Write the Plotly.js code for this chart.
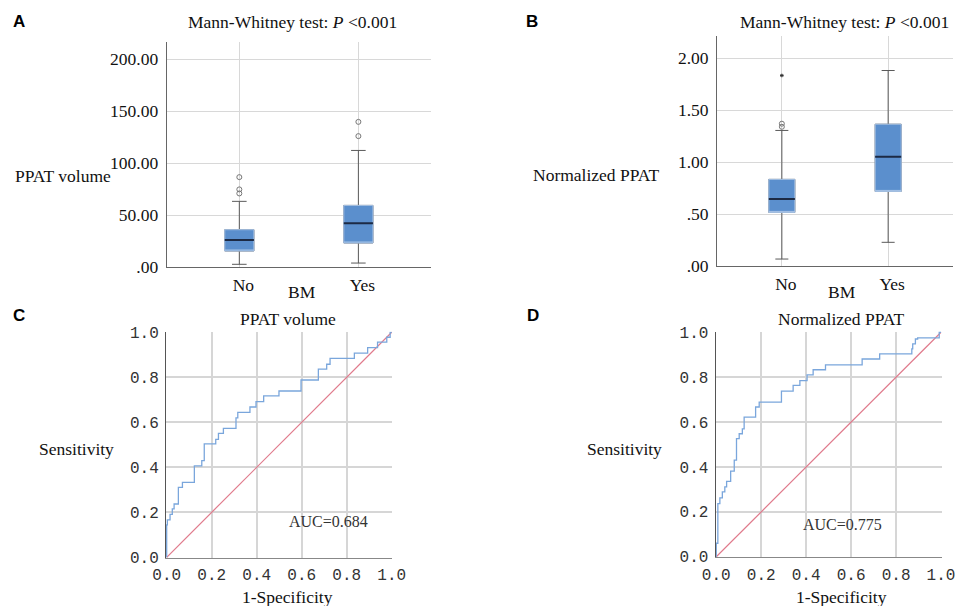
<!DOCTYPE html>
<html>
<head>
<meta charset="utf-8">
<script src="https://cdn.plot.ly/plotly-3.0.1.min.js"></script>
<style>html,body{margin:0;padding:0;background:#fff;}#chart{width:959px;height:606px;}</style>
</head>
<body>
<div id="chart"></div>
<script>
// ---------- data ----------
const groups = ['No', 'Yes'];

const volQ1 = [15.4, 23.1];
const volMedian = [26.0, 42.0];
const volQ3 = [35.9, 59.3];
const volLow = [2.6, 3.8];
const volHigh = [63.2, 112.2];
const volOutX = ['No', 'No', 'No', 'Yes', 'Yes'];
const volOutY = [86.5, 74.7, 70.8, 126.0, 139.7];
const volTickVals = [0, 50, 100, 150, 200];
const volTickText = ['.00', '50.00', '100.00', '150.00', '200.00'];

const normQ1 = [0.516, 0.718];
const normMedian = [0.644, 1.051];
const normQ3 = [0.834, 1.365];
const normLow = [0.067, 0.228];
const normHigh = [1.305, 1.882];
const normOutX = ['No', 'No'];
const normOutY = [1.37, 1.34];
const normExtX = ['No'];
const normExtY = [1.834];
const normTickVals = [0, 0.5, 1, 1.5, 2];
const normTickText = ['.00', '.50', '1.00', '1.50', '2.00'];

const rocVolFpr = [0, 0, 0.003, 0.015, 0.025, 0.033, 0.052, 0.070, 0.123, 0.156, 0.167, 0.218, 0.230, 0.252, 0.308, 0.316, 0.370, 0.397, 0.431, 0.499, 0.597, 0.674, 0.711, 0.726, 0.834, 0.893, 0.937, 0.978, 0.993, 1];
const rocVolTpr = [0, 0.144, 0.166, 0.191, 0.215, 0.237, 0.311, 0.333, 0.406, 0.430, 0.504, 0.524, 0.551, 0.573, 0.620, 0.644, 0.668, 0.692, 0.717, 0.739, 0.788, 0.836, 0.858, 0.884, 0.907, 0.932, 0.956, 0.978, 1.0, 1];

const rocNormFpr = [0, 0, 0.007, 0.016, 0.027, 0.038, 0.046, 0.064, 0.080, 0.090, 0.102, 0.116, 0.124, 0.175, 0.191, 0.290, 0.342, 0.372, 0.404, 0.431, 0.486, 0.649, 0.727, 0.870, 0.874, 0.886, 0.896, 0.992, 1];
const rocNormTpr = [0, 0.06, 0.237, 0.262, 0.289, 0.311, 0.336, 0.381, 0.430, 0.526, 0.548, 0.570, 0.622, 0.667, 0.689, 0.738, 0.763, 0.785, 0.810, 0.833, 0.855, 0.881, 0.904, 0.926, 0.948, 0.970, 0.975, 1.0, 1];

const diagX = [0, 1];
const diagY = [0, 1];
const rocTickVals = [0, 0.2, 0.4, 0.6, 0.8, 1.0];
const rocTickText = ['0.0', '0.2', '0.4', '0.6', '0.8', '1.0'];

// ---------- style ----------
const W = 959, H = 606;
const SERIF = 'Liberation Serif, Times New Roman, serif';
const MONO = 'Liberation Mono, Courier New, monospace';
const BOXFILL = '#5b8fcd';
const MEDCOL = '#1c2a44';
const WHISK = '#5a5a5a';
const px = v => v / W;
const py = v => 1 - v / H;

function boxTraces(xa, ya, q1, med, q3, lo, hi) {
  const common = {type: 'box', x: groups, xaxis: xa, yaxis: ya, boxpoints: false, width: 0.245, hoverinfo: 'skip', showlegend: false};
  return [
    Object.assign({}, common, {q1: q1, median: med, q3: q3, lowerfence: lo, upperfence: hi,
      fillcolor: BOXFILL, line: {color: WHISK, width: 1}, whiskerwidth: 0.5}),
    Object.assign({}, common, {q1: q1, median: q1, q3: q3, lowerfence: q1, upperfence: q3,
      fillcolor: BOXFILL, line: {color: '#a9c4e6', width: 1}, whiskerwidth: 0}),
    Object.assign({}, common, {q1: med, median: med, q3: med, lowerfence: med, upperfence: med,
      fillcolor: 'rgba(0,0,0,0)', line: {color: MEDCOL, width: 2}, whiskerwidth: 0})
  ];
}
function rocTraces(xa, ya, fpr, tpr) {
  return [
    {type: 'scatter', mode: 'lines', x: diagX, y: diagY, xaxis: xa, yaxis: ya,
      line: {color: '#e07a8c', width: 1.2}, showlegend: false, hoverinfo: 'skip'},
    {type: 'scatter', mode: 'lines', x: fpr, y: tpr, xaxis: xa, yaxis: ya,
      line: {color: '#7aa6dc', width: 1.3, shape: 'hv'}, showlegend: false, hoverinfo: 'skip'}
  ];
}

const traces = [];
traces.push(...boxTraces('x', 'y', volQ1, volMedian, volQ3, volLow, volHigh));
traces.push({type: 'scatter', mode: 'markers', x: volOutX, y: volOutY, xaxis: 'x', yaxis: 'y',
  marker: {symbol: 'circle-open', size: 5, color: '#777', line: {width: 1}}, showlegend: false, hoverinfo: 'skip'});
traces.push(...boxTraces('x2', 'y2', normQ1, normMedian, normQ3, normLow, normHigh));
traces.push({type: 'scatter', mode: 'markers', x: normOutX, y: normOutY, xaxis: 'x2', yaxis: 'y2',
  marker: {symbol: 'circle-open', size: 5, color: '#777', line: {width: 1}}, showlegend: false, hoverinfo: 'skip'});
traces.push({type: 'scatter', mode: 'markers', x: normExtX, y: normExtY, xaxis: 'x2', yaxis: 'y2',
  marker: {symbol: 'asterisk-open', size: 3, color: '#333', line: {width: 1, color: '#333'}}, showlegend: false, hoverinfo: 'skip'});
traces.push(...rocTraces('x3', 'y3', rocVolFpr, rocVolTpr));
traces.push(...rocTraces('x4', 'y4', rocNormFpr, rocNormTpr));

function boxX(dom, anchor) {
  return {domain: dom, anchor: anchor, type: 'category', range: [-0.61, 1.61], showline: true, linecolor: '#666', linewidth: 1,
    showgrid: true, gridcolor: '#d8d8d8', gridwidth: 1, zeroline: false, ticks: '', ticklabelshift: 4, ticklabelstandoff: 2,
    tickfont: {family: SERIF, size: 17.5, color: '#111'}, fixedrange: true};
}
function boxY(dom, anchor, rng, tv, tt) {
  return {domain: dom, anchor: anchor, range: rng, tickmode: 'array', tickvals: tv, ticktext: tt, showline: true, linecolor: '#666', linewidth: 1,
    showgrid: true, gridcolor: '#d8d8d8', gridwidth: 1, zeroline: false, ticks: '', ticklabelstandoff: 4,
    tickfont: {family: SERIF, size: 17.5, color: '#111'}, fixedrange: true};
}
function rocX(dom, anchor) {
  return {domain: dom, anchor: anchor, range: [-0.003, 1.003], tickmode: 'array', tickvals: rocTickVals, ticktext: rocTickText,
    showline: true, linecolor: '#888', linewidth: 1, showgrid: true, gridcolor: '#d6d6d6', gridwidth: 2, zeroline: false, ticks: '',
    ticklabelstandoff: 2, tickfont: {family: MONO, size: 16, color: '#333'}, fixedrange: true};
}
function rocY(dom, anchor) {
  return {domain: dom, anchor: anchor, range: [-0.003, 1.003], tickmode: 'array', tickvals: rocTickVals, ticktext: rocTickText,
    showline: true, linecolor: '#555', linewidth: 1, showgrid: true, gridcolor: '#d6d6d6', gridwidth: 2, zeroline: false, ticks: '',
    ticklabelstandoff: 3, tickfont: {family: MONO, size: 16, color: '#333'}, fixedrange: true};
}

const layout = {
  width: W, height: H, margin: {l: 0, r: 0, t: 0, b: 0}, paper_bgcolor: '#fff', plot_bgcolor: '#fff',
  boxmode: 'overlay', showlegend: false,
  xaxis: boxX([px(166.7), px(431)], 'y'),
  yaxis: boxY([py(267), py(42.3)], 'x', [0, 216.3], volTickVals, volTickText),
  xaxis2: boxX([px(717), px(953)], 'y2'),
  yaxis2: boxY([py(266), py(35.7)], 'x2', [0, 2.217], normTickVals, normTickText),
  xaxis3: rocX([px(166), px(392.4)], 'y3'),
  yaxis3: rocY([py(558), py(331.6)], 'x3'),
  xaxis4: rocX([px(715.6), px(941.7)], 'y4'),
  yaxis4: rocY([py(557.4), py(331.6)], 'x4'),
  annotations: []
};

function note(text, x, y, size, opts) {
  layout.annotations.push(Object.assign({text: text, xref: 'paper', yref: 'paper', x: px(x), y: py(y),
    xanchor: 'center', yanchor: 'middle', showarrow: false,
    font: {family: SERIF, size: size || 17.5, color: '#111'}}, opts || {}));
}
const letterFont = {family: 'Liberation Sans, Arial, sans-serif', size: 17, color: '#000'};
note('<b>A</b>', 19, 22, 17, {font: letterFont});
note('<b>B</b>', 532, 22, 17, {font: letterFont});
note('<b>C</b>', 19, 315, 17, {font: letterFont});
note('<b>D</b>', 533, 315, 17, {font: letterFont});
note('Mann-Whitney test: <i>P</i> &lt;0.001', 292, 22);
note('Mann-Whitney test: <i>P</i> &lt;0.001', 844, 22);
note('PPAT volume', 62.5, 176);
note('Normalized PPAT', 596.7, 175);
note('BM', 302, 292);
note('BM', 841.7, 292);
note('PPAT volume', 288.3, 319);
note('Normalized PPAT', 841.7, 319);
note('Sensitivity', 76, 449);
note('Sensitivity', 624.5, 449);
note('1-Specificity', 287.3, 596.5);
note('1-Specificity', 841, 596.5);
layout.annotations.push({text: 'AUC=0.684', xref: 'x3', yref: 'y3', x: 0.72, y: 0.158, showarrow: false,
  xanchor: 'center', yanchor: 'middle', font: {family: SERIF, size: 16, color: '#333'}});
layout.annotations.push({text: 'AUC=0.775', xref: 'x4', yref: 'y4', x: 0.562, y: 0.145, showarrow: false,
  xanchor: 'center', yanchor: 'middle', font: {family: SERIF, size: 16, color: '#333'}});

Plotly.newPlot('chart', traces, layout, {staticPlot: true, displayModeBar: false});
</script>
</body>
</html>
